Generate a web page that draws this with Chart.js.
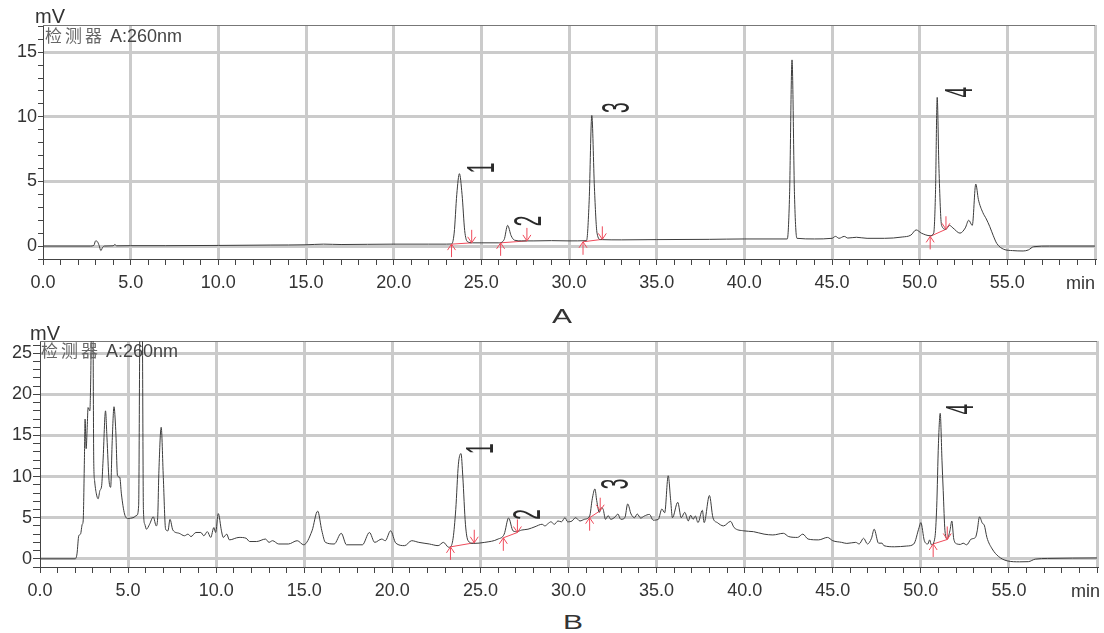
<!DOCTYPE html>
<html>
<head>
<meta charset="utf-8">
<script src="https://cdn.jsdelivr.net/npm/chart.js@4.4.1/dist/chart.umd.min.js"></script>
<style>
  body { margin: 0; background: #fff; width: 1104px; height: 633px; overflow: hidden; position: relative;
         font-family: "Liberation Sans", Arial, sans-serif; color: #333; }
  .box { position: absolute; left: 0; width: 1104px; }
  #boxA { top: 0; height: 300px; }
  #boxB { top: 320px; height: 290px; }
  .txt { position: absolute; white-space: nowrap; line-height: 1; }
  .unit { font-size: 20px; }
  .det { font-size: 18px; color: #444; }
  .det .zh { font-family: "Noto Sans CJK SC", sans-serif; color: #666; font-size: 17px; letter-spacing: 3px; }
  .min { font-size: 18px; text-align: right; width: 60px; }
  .cap { font-size: 20px; transform: scaleX(1.5); width: 40px; text-align: center; }
</style>
</head>
<body>
<div class="box" id="boxA"><canvas id="chartA"></canvas></div>
<div class="box" id="boxB"><canvas id="chartB"></canvas></div>

<div class="txt unit" style="left:35px;top:6px">mV</div>
<div class="txt det" style="left:45px;top:26px"><span class="zh">检测器</span> A:260nm</div>
<div class="txt min" style="left:1035px;top:274px">min</div>
<div class="txt cap" style="left:542px;top:306px">A</div>

<div class="txt unit" style="left:30px;top:323px">mV</div>
<div class="txt det" style="left:41px;top:341px"><span class="zh">检测器</span> A:260nm</div>
<div class="txt min" style="left:1040px;top:582px">min</div>
<div class="txt cap" style="left:553px;top:612px">B</div>

<script>
(() => {
  "use strict";

  // ── chromatogram A (time in min, signal in mV) ─────────────────────────────
  const traceA = [
    [0, 0], [2.7, 0], [2.9, 0.05], [3.0, 0.4], [3.1, 0.35], [3.2, 0.05], [3.3, -0.35], [3.4, -0.1],
    [3.5, 0], [4.0, 0.02], [4.1, 0.12], [4.2, 0.02], [5, 0.03], [7, 0.03], [10, 0.05], [13, 0.08],
    [15, 0.1], [16, 0.15], [17, 0.12], [20, 0.15], [22, 0.15], [23.0, 0.15], [23.3, 0.16],
    [23.45, 1.0], [23.6, 4.0], [23.75, 5.6], [23.9, 4.0], [24.05, 1.2], [24.2, 0.35], [24.5, 0.25],
    [25, 0.25], [26.0, 0.25], [26.3, 0.5], [26.5, 1.6], [26.7, 0.8], [26.9, 0.45], [27.3, 0.4],
    [28, 0.4], [29, 0.42], [30, 0.4], [31.0, 0.42], [31.15, 3.5], [31.3, 10.1], [31.45, 4.5],
    [31.6, 1.0], [31.8, 0.5], [33, 0.48], [35, 0.5], [38, 0.52], [40, 0.55], [42.45, 0.55],
    [42.58, 4.0], [42.72, 14.4], [42.86, 4.0], [43.0, 0.6], [44, 0.55], [45.0, 0.6], [45.2, 0.75],
    [45.4, 0.6], [45.7, 0.75], [45.9, 0.62], [46.4, 0.68], [47, 0.6], [48, 0.6], [49, 0.7],
    [49.5, 0.85], [49.8, 1.25], [50.1, 1.0], [50.6, 0.8], [50.8, 1.0], [50.9, 4.0], [51.0, 11.5],
    [51.1, 6.0], [51.25, 1.6], [51.5, 1.3], [51.7, 1.6], [51.9, 1.4], [52.3, 1.0], [52.6, 1.4],
    [52.8, 2.0], [53.0, 1.6], [53.2, 4.8], [53.35, 3.6], [53.6, 2.6], [53.8, 2.1], [54.0, 1.5],
    [54.2, 0.8], [54.4, 0.2], [54.8, -0.25], [55.3, -0.35], [55.9, -0.38], [56.2, -0.3],
    [56.5, -0.05], [57.4, 0], [60, 0]
  ];
  const startsA = [[23.3, 0.15], [26.1, 0.25], [30.8, 0.33], [50.6, 0.75]];
  const endsA = [[24.45, 0.25], [27.6, 0.4], [31.9, 0.52], [51.5, 1.3]];
  const labelsA = [["1", 25.1, 6.05], ["2", 27.8, 1.94], ["3", 32.8, 10.7], ["4", 52.4, 11.9]];

  // ── chromatogram B ─────────────────────────────────────────────────────────
  const traceB = [
    [0, 0], [2.0, 0], [2.1, 0.6], [2.2, 2.8], [2.3, 3.0], [2.4, 4.2], [2.45, 4.6], [2.52, 12],
    [2.56, 17.0], [2.62, 13.4], [2.68, 16], [2.73, 18.4], [2.83, 18.0], [2.88, 22], [2.93, 30],
    [3.0, 30], [3.05, 12], [3.1, 9.5], [3.2, 7.9], [3.3, 7.3], [3.4, 8.3], [3.5, 8.9], [3.58, 12],
    [3.72, 18.0], [3.8, 14.8], [3.92, 9.5], [4.01, 8.7], [4.1, 14.4], [4.2, 18.5], [4.3, 15.6],
    [4.4, 10.1], [4.53, 9.9], [4.62, 7.9], [4.8, 5.45], [5.0, 4.9], [5.28, 5.0], [5.5, 5.3],
    [5.6, 6.5], [5.68, 30], [5.8, 30], [5.87, 6], [5.95, 4.2], [6.04, 3.6], [6.22, 4.2],
    [6.43, 5.1], [6.6, 4.0], [6.68, 5], [6.75, 10.7], [6.88, 16.0], [7.0, 9.9], [7.13, 3.6],
    [7.26, 3.4], [7.38, 4.8], [7.54, 3.5], [7.9, 3.1], [8.2, 2.8], [8.4, 3.0], [8.57, 2.7],
    [8.85, 3.2], [9.13, 3.2], [9.3, 2.8], [9.5, 3.3], [9.69, 2.6], [9.87, 3.8], [9.97, 3.2],
    [10.12, 5.5], [10.3, 3.4], [10.4, 2.6], [10.6, 3.0], [10.75, 2.3], [11.3, 2.6], [11.7, 2.5],
    [11.9, 2.1], [12.3, 2.1], [12.8, 2.4], [13.0, 2.0], [13.2, 2.2], [13.55, 1.8], [14.1, 1.8],
    [14.6, 2.2], [14.97, 1.7], [15.44, 3.4], [15.76, 5.8], [16.0, 3.4], [16.2, 2.0], [16.7, 1.8],
    [17.1, 3.1], [17.4, 1.7], [18.3, 1.7], [18.7, 3.2], [19.0, 2.0], [19.4, 2.4], [19.6, 2.2],
    [19.9, 3.4], [20.2, 1.9], [20.7, 1.6], [21.1, 2.2], [21.5, 2.0], [22.1, 1.8], [22.6, 1.6],
    [22.9, 2.0], [23.2, 1.4], [23.3, 1.45], [23.45, 2.5], [23.6, 6], [23.75, 11.5], [23.9, 12.8],
    [24.0, 10], [24.15, 4.2], [24.3, 2.2], [24.6, 1.87], [25.25, 2.0], [26.0, 2.4], [26.35, 3.0],
    [26.6, 4.96], [26.85, 3.4], [27.05, 3.3], [27.35, 3.5], [27.7, 3.6], [28.1, 3.9], [28.5, 4.2],
    [28.66, 4.0], [28.85, 4.3], [29.0, 4.5], [29.2, 4.2], [29.4, 4.6], [29.6, 4.5], [29.8, 5.0],
    [29.95, 4.5], [30.2, 4.6], [30.4, 5.0], [30.65, 4.6], [30.9, 4.8], [31.2, 5.2], [31.35, 7.3],
    [31.5, 8.5], [31.6, 7.1], [31.75, 5.65], [31.86, 6.2], [31.97, 6.0], [32.1, 4.8], [32.25, 5.25],
    [32.4, 4.8], [32.65, 5.1], [32.8, 5.45], [32.97, 4.8], [33.2, 5.0], [33.36, 6.67], [33.55, 5.45],
    [33.75, 5.0], [33.9, 5.45], [34.1, 4.95], [34.3, 5.2], [34.6, 5.4], [34.8, 4.7], [35.1, 4.8],
    [35.3, 6.06], [35.46, 5.6], [35.66, 10.1], [35.8, 7.1], [35.9, 5.0], [36.2, 6.87], [36.4, 5.0],
    [36.6, 5.65], [36.8, 4.6], [36.93, 5.3], [37.07, 4.8], [37.2, 5.2], [37.35, 4.4], [37.6, 5.9],
    [37.7, 4.4], [38.0, 7.7], [38.2, 5.0], [38.45, 4.4], [38.8, 4.0], [39.2, 4.55], [39.4, 3.8],
    [39.95, 3.4], [40.5, 3.3], [41.1, 3.0], [41.6, 2.9], [42.2, 3.1], [42.5, 2.7], [43.0, 2.6],
    [43.3, 3.0], [43.6, 2.4], [44.2, 2.3], [44.7, 2.6], [45.0, 2.2], [45.5, 2.0], [45.8, 1.87],
    [46.3, 2.0], [46.5, 1.8], [46.75, 2.5], [46.97, 1.8], [47.2, 2.5], [47.35, 3.6], [47.6, 1.9],
    [47.8, 1.9], [47.9, 1.6], [48.5, 1.46], [49.2, 1.55], [49.6, 1.8], [49.9, 3.8], [50.0, 4.4],
    [50.2, 2.2], [50.4, 1.8], [50.5, 2.3], [50.6, 1.7], [50.8, 2.6], [50.9, 6.26], [51.0, 14],
    [51.1, 17.7], [51.2, 12], [51.27, 8.3], [51.37, 3.4], [51.5, 2.4], [51.65, 3.4], [51.76, 4.6],
    [51.87, 2.4], [52.06, 1.8], [52.25, 1.75], [52.4, 1.9], [52.6, 1.7], [52.86, 2.4], [53.1, 2.6],
    [53.2, 3.4], [53.33, 5.1], [53.5, 4.3], [53.6, 4.1], [53.75, 2.6], [54.05, 1.2], [54.4, 0.3],
    [54.9, -0.25], [55.6, -0.37], [56.1, -0.35], [56.5, -0.04], [57.2, 0.04], [60, 0.1]
  ];
  const startsB = [[23.3, 1.45], [26.3, 2.55], [31.2, 5.0], [50.7, 1.8]];
  const endsB = [[24.65, 1.95], [27.1, 3.2], [31.8, 5.85], [51.5, 2.35]];
  const labelsB = [["1", 25.1, 13.4], ["2", 27.8, 5.4], ["3", 32.8, 9.1], ["4", 52.35, 18.2]];

  Chart.defaults.font.family = '"Liberation Sans", Arial, sans-serif';
  Chart.defaults.font.size = 18;
  Chart.defaults.color = "#333";

  const RED = "#ef4a5a";

  function arrow(ctx, px, py, dir) {
    // dir 1: tail below, head pointing up; dir -1: tail above, head pointing down
    ctx.beginPath();
    ctx.moveTo(px, py + 13 * dir);
    ctx.lineTo(px, py);
    ctx.moveTo(px - 4, py + 6 * dir);
    ctx.lineTo(px, py);
    ctx.lineTo(px + 4, py + 6 * dir);
    ctx.stroke();
  }

  const peakPlugin = {
    id: "peaks",
    beforeDatasetsDraw(chart) {
      const { ctx, chartArea: a } = chart;
      ctx.save();
      ctx.strokeStyle = "#777";
      ctx.lineWidth = 1;
      ctx.beginPath();
      ctx.moveTo(a.left, a.top + 0.5);
      ctx.lineTo(a.right, a.top + 0.5);
      ctx.stroke();
      ctx.restore();
    },
    afterDatasetsDraw(chart, args, opts) {
      const { ctx, scales: { x, y } } = chart;
      ctx.save();
      ctx.strokeStyle = RED;
      ctx.lineWidth = 1;
      opts.starts.forEach(([t, v]) => arrow(ctx, x.getPixelForValue(t), y.getPixelForValue(v), 1));
      opts.ends.forEach(([t, v]) => arrow(ctx, x.getPixelForValue(t), y.getPixelForValue(v), -1));
      ctx.fillStyle = "#2a2a2a";
      ctx.font = '38px "Liberation Sans", Arial, sans-serif';
      ctx.textAlign = "center";
      ctx.textBaseline = "middle";
      opts.labels.forEach(([txt, t, v]) => {
        ctx.save();
        ctx.translate(x.getPixelForValue(t), y.getPixelForValue(v));
        ctx.rotate(-Math.PI / 2);
        ctx.scale(0.5, 1);
        ctx.fillText(txt, 0, 0);
        ctx.restore();
      });
      ctx.restore();
    },
  };

  function makeChart(id, trace, starts, ends, labels, cfg) {
    const datasets = [{
      data: trace.map(([t, v]) => ({ x: t, y: v })),
      borderColor: "#3c3c3c",
      borderWidth: 1,
      pointRadius: 0,
      cubicInterpolationMode: "monotone",
    }];
    starts.forEach((s, i) => {
      datasets.push({
        data: [{ x: s[0], y: s[1] }, { x: ends[i][0], y: ends[i][1] }],
        borderColor: RED,
        borderWidth: 1,
        pointRadius: 0,
      });
    });

    return new Chart(document.getElementById(id), {
      type: "line",
      data: { datasets },
      plugins: [peakPlugin],
      options: {
        responsive: true,
        maintainAspectRatio: false,
        animation: false,
        layout: { padding: { top: cfg.top, right: cfg.right, left: 0, bottom: 0 } },
        plugins: {
          legend: { display: false },
          tooltip: { enabled: false },
          peaks: { starts, ends, labels },
        },
        scales: {
          x: {
            type: "linear",
            min: 0,
            max: 60,
            afterFit: (s) => { s.height = cfg.xHeight; },
            border: { color: "#444", width: 1 },
            grid: {
              color: (c) => (c.tick && c.tick.value % 5 === 0 && c.tick.value > 0 ? "#cbcbcb" : "rgba(0,0,0,0)"),
              lineWidth: 3,
              tickColor: "#444",
              tickWidth: 1,
              tickLength: 6,
            },
            ticks: {
              stepSize: 1,
              autoSkip: false,
              maxRotation: 0,
              padding: 7,
              callback: (v) => (v % 5 === 0 && v < 60 ? v.toFixed(1) : ""),
            },
          },
          y: {
            min: -1,
            max: cfg.yMax,
            afterFit: (s) => { s.width = cfg.yWidth; },
            border: { color: "#444", width: 1 },
            grid: {
              color: (c) => (c.tick && c.tick.value % 5 === 0 ? "#cbcbcb" : "rgba(0,0,0,0)"),
              lineWidth: 3,
              tickColor: "#444",
              tickWidth: 1,
              tickLength: cfg.tickLen,
            },
            ticks: {
              stepSize: 1,
              includeBounds: false,
              autoSkip: false,
              padding: 1,
              callback: (v) => (v % 5 === 0 ? String(v) : ""),
            },
          },
        },
      },
    });
  }

  makeChart("chartA", traceA, startsA, endsA, labelsA,
    { top: 25, right: 9, yWidth: 43, xHeight: 41, yMax: 17.1, tickLen: 5 });
  makeChart("chartB", traceB, startsB, endsB, labelsB,
    { top: 21, right: 4, yWidth: 40, xHeight: 43, yMax: 26.5, tickLen: 7 });
})();
</script>
</body>
</html>
